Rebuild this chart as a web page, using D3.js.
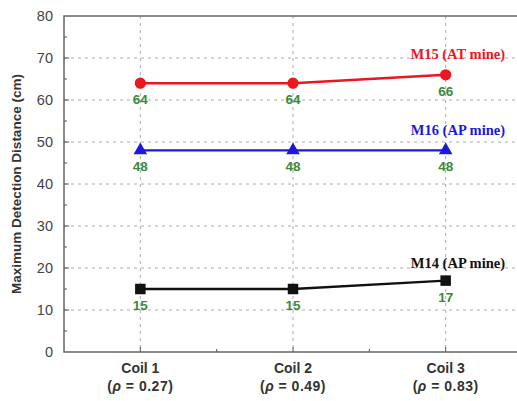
<!DOCTYPE html>
<html>
<head>
<meta charset="utf-8">
<script src="https://cdn.jsdelivr.net/npm/d3@7"></script>
<style>
  body { margin: 0; background: #fff; }
  svg { display: block; }
</style>
</head>
<body>
<svg id="chart"></svg>
<script>
// data
const coils = ['Coil 1', 'Coil 2', 'Coil 3']
const rhoValues = ['0.27', '0.49', '0.83']
const m15 = [64, 64, 66]
const m16 = [48, 48, 48]
const m14 = [15, 15, 17]
const seriesNames = ['M15 (AT mine)', 'M16 (AP mine)', 'M14 (AP mine)']
const yTicks = [0, 10, 20, 30, 40, 50, 60, 70, 80]

const width = 517
const height = 401
const margin = { left: 64, top: 16, bottom: 49 }

const svg = d3.select('#chart')
  .attr('width', width)
  .attr('height', height)

const x = d3.scaleLinear()
  .domain([0.5, 3.5])
  .range([margin.left, 522])

const y = d3.scaleLinear()
  .domain([0, 80])
  .range([height - margin.bottom, margin.top])

const plotRight = x(3.5)
const sans = 'Arial, "Liberation Sans", sans-serif'

// grid lines
const grid = svg.append('g').attr('class', 'grid')
grid.selectAll('line.h')
  .data(yTicks.filter(d => d > 0 && d < 80))
  .enter().append('line')
    .attr('x1', margin.left).attr('x2', plotRight)
    .attr('y1', d => y(d)).attr('y2', d => y(d))
    .attr('stroke', '#aaa')
    .attr('stroke-width', 1)
    .attr('stroke-dasharray', '3,4')
grid.selectAll('line.v')
  .data(coils)
  .enter().append('line')
    .attr('x1', (d, i) => x(i + 1)).attr('x2', (d, i) => x(i + 1))
    .attr('y1', y(80)).attr('y2', y(0))
    .attr('stroke', '#aaa')
    .attr('stroke-width', 1)
    .attr('stroke-dasharray', '3,4')

// y axis
const yAxis = d3.axisLeft(y)
  .tickValues(yTicks)
  .tickSize(0)
  .tickPadding(11)
const yg = svg.append('g')
  .attr('transform', `translate(${margin.left},0)`)
  .call(yAxis)
yg.select('.domain').remove()
yg.selectAll('text')
  .style('font-family', sans)
  .style('font-size', '14.5px')
  .style('fill', '#444')

// inner ticks (major + minor)
const yMinor = d3.range(5, 80, 5)
svg.append('g').selectAll('line')
  .data(yMinor)
  .enter().append('line')
    .attr('x1', margin.left).attr('x2', d => margin.left + (d % 10 === 0 ? 5 : 3))
    .attr('y1', d => y(d)).attr('y2', d => y(d))
    .attr('stroke', '#555')
const xMinor = [1, 1.5, 2, 2.5, 3]
svg.append('g').selectAll('line')
  .data(xMinor)
  .enter().append('line')
    .attr('x1', d => x(d)).attr('x2', d => x(d))
    .attr('y1', y(0)).attr('y2', d => y(0) - (Number.isInteger(d) ? 5 : 3))
    .attr('stroke', '#555')

// frame
svg.append('path')
  .attr('d', `M${plotRight},${y(80)}H${margin.left}V${y(0)}H${plotRight}`)
  .attr('fill', 'none')
  .attr('stroke', '#666')
  .attr('stroke-width', 1.5)

// x labels
const xl = svg.append('g')
  .style('font-family', sans)
  .style('font-weight', 'bold')
  .style('font-size', '14px')
  .style('fill', '#333')
coils.forEach((c, i) => {
  xl.append('text')
    .attr('x', x(i + 1)).attr('y', 373)
    .attr('text-anchor', 'middle')
    .text(c)
  const t = xl.append('text')
    .attr('x', x(i + 1)).attr('y', 391)
    .attr('text-anchor', 'middle')
    .style('letter-spacing', '0.5px')
  t.append('tspan').text('(')
  t.append('tspan').style('font-style', 'italic').text('\u03C1')
  t.append('tspan').text(' = ' + rhoValues[i] + ')')
})

// y title
svg.append('text')
  .attr('transform', `translate(21,${y(40)}) rotate(-90)`)
  .attr('text-anchor', 'middle')
  .style('font-family', sans)
  .style('font-weight', 'bold')
  .style('font-size', '13.5px')
  .style('fill', '#333')
  .text('Maximum Detection Distance (cm)')

// series
const series = [
  { name: seriesNames[0], values: m15, color: '#e8181e', symbol: d3.symbolCircle, size: 100, labelY: 54 },
  { name: seriesNames[1], values: m16, color: '#1a1ad8', symbol: d3.symbolTriangle, size: 80, labelY: 130 },
  { name: seriesNames[2], values: m14, color: '#111', symbol: d3.symbolSquare, size: 110, labelY: 263 }
]

const line = d3.line()
  .x((d, i) => x(i + 1))
  .y(d => y(d))

series.forEach(s => {
  const g = svg.append('g')
  g.append('path')
    .datum(s.values)
    .attr('d', line)
    .attr('fill', 'none')
    .attr('stroke', s.color)
    .attr('stroke-width', 2.4)
  g.selectAll('path.pt')
    .data(s.values)
    .enter().append('path')
      .attr('class', 'pt')
      .attr('transform', (d, i) => `translate(${x(i + 1)},${y(d)})`)
      .attr('d', d3.symbol().type(s.symbol).size(s.size))
      .attr('fill', s.color)
  g.selectAll('text.val')
    .data(s.values)
    .enter().append('text')
      .attr('class', 'val')
      .attr('x', (d, i) => x(i + 1))
      .attr('y', d => y(d) + 21)
      .attr('text-anchor', 'middle')
      .style('font-family', sans)
      .style('font-weight', 'bold')
      .style('font-size', '13.5px')
      .style('fill', '#3a8a3a')
      .text(d => d)
  g.append('text')
    .attr('x', 505).attr('y', s.labelY + 5)
    .attr('text-anchor', 'end')
    .style('font-family', '"Liberation Serif", "Times New Roman", serif')
    .style('font-weight', 'bold')
    .style('font-size', '14.5px')
    .style('fill', s.color)
    .text(s.name)
})
</script>
</body>
</html>
